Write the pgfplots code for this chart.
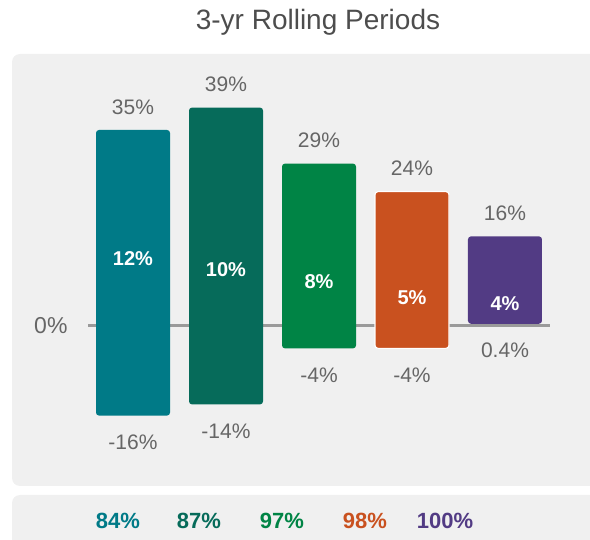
\documentclass[border=0pt]{standalone}
\usepackage{pgfplots}
\pgfplotsset{compat=1.18}
\usepackage{pgfplotstable}
\usepackage{fontspec}
\setmainfont{Liberation Sans}
\definecolor{cA}{HTML}{007A87}
\definecolor{cB}{HTML}{066B5A}
\definecolor{cC}{HTML}{008445}
\definecolor{cD}{HTML}{C9511F}
\definecolor{cE}{HTML}{523B84}
\definecolor{panel}{HTML}{F0F0F0}
\definecolor{lbl}{HTML}{666666}
\definecolor{ttl}{HTML}{4D4D4D}
\definecolor{zline}{HTML}{9A9A9A}

\pgfplotstableread{
x min max avg
0 -16 35 12
1 -14 39 10
2 -4 29 8
3 -4 24 5
4 0.4 16 4
}\rolling

\pgfplotsset{
  common/.style={scale only axis, width=462pt, height=432pt,
    xmin=-0.484, xmax=4.484, ymin=-28.75, ymax=48.39,
    at={(88pt,-487pt)}, anchor=south west, clip=false,
    /pgf/number format/assume math mode=true},
  lab/.style={draw=none, mark=none, nodes near coords={\pgfmathprintnumber{\pgfplotspointmeta}\%}, point meta=y},
  onlyorange/.style={skip coords between index={0}{3}, skip coords between index={4}{5}}
}

\begin{document}
\begin{tikzpicture}
\useasboundingbox (0,0) rectangle (590pt,-540pt);
\clip (0,0) rectangle (590pt,-540pt);
\fill[panel, rounded corners=8pt] (12pt,-54pt) rectangle (610pt,-486pt);
\fill[panel, rounded corners=8pt] (12pt,-495pt) rectangle (610pt,-570pt);
\node[font=\fontsize{28}{32}\selectfont, text=ttl] at (318pt,-22pt) {3-yr Rolling Periods};
\begin{scope}[every node/.style={font=\bfseries\fontsize{22}{26}\selectfont}]
\node[text=cA] at (118pt,-521pt) {84\%};
\node[text=cB] at (199pt,-521pt) {87\%};
\node[text=cC] at (282pt,-521pt) {97\%};
\node[text=cD] at (365pt,-521pt) {98\%};
\node[text=cE] at (445pt,-521pt) {100\%};
\end{scope}

\begin{axis}[common, ybar stacked, stack negative=on previous, bar width=74pt,
  axis line style={draw=none}, xtick=\empty, ytick=\empty,
  extra y ticks={0}, extra y tick labels={0\%},
  extra y tick style={major tick length=0pt, grid=major},
  major grid style={zline, line width=3pt},
  yticklabel style={text=lbl, font=\fontsize{23}{27}\selectfont, xshift=-17pt}]
\addplot[draw=none, fill=none] table[x=x, y=min] {\rolling};
\addplot[fill=cA, draw=none, rounded corners=3pt] table[x=x, y expr={\coordindex==0 ? \thisrow{max}-\thisrow{min} : 0}] {\rolling};
\addplot[fill=cB, draw=none, rounded corners=3pt] table[x=x, y expr={\coordindex==1 ? \thisrow{max}-\thisrow{min} : 0}] {\rolling};
\addplot[fill=cC, draw=none, rounded corners=3pt] table[x=x, y expr={\coordindex==2 ? \thisrow{max}-\thisrow{min} : 0}] {\rolling};
\addplot[fill=cD, draw=none, rounded corners=3pt] table[x=x, y expr={\coordindex==3 ? \thisrow{max}-\thisrow{min} : 0}] {\rolling};
\addplot[fill=cE, draw=none, rounded corners=3pt] table[x=x, y expr={\coordindex==4 ? \thisrow{max}-\thisrow{min} : 0}] {\rolling};
\end{axis}

\begin{axis}[common, hide axis, ybar stacked, stack negative=on previous, bar width=74pt]
\addplot[draw=none, fill=none, onlyorange] table[x=x, y=min] {\rolling};
\addplot[fill=cD, draw=white, line width=1.2pt, rounded corners=3pt, onlyorange] table[x=x, y expr=\thisrow{max}-\thisrow{min}] {\rolling};
\end{axis}

\begin{axis}[common, hide axis]
\addplot[lab, every node near coord/.append style={anchor=center, yshift=23pt, text=lbl, font=\fontsize{21}{25}\selectfont}] table[x=x, y=max] {\rolling};
\addplot[lab, every node near coord/.append style={anchor=center, yshift=-27pt, text=lbl, font=\fontsize{21}{25}\selectfont}] table[x=x, y=min] {\rolling};
\addplot[lab, every node near coord/.append style={anchor=center, text=white, font=\bfseries\fontsize{20}{24}\selectfont}] table[x=x, y=avg] {\rolling};
\end{axis}
\end{tikzpicture}
\end{document}
